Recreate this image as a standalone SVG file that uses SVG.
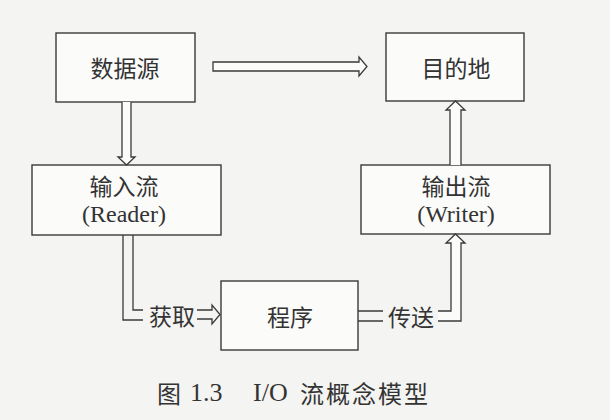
<svg xmlns="http://www.w3.org/2000/svg" width="610" height="420" viewBox="0 0 610 420">
<style>
.box{fill:#fbfbfa;stroke:#3a3a3a;stroke-width:1.4}
.ln{fill:none;stroke:#3a3a3a;stroke-width:1.3;stroke-linejoin:miter}
.ar{fill:#fbfbfa;stroke:#3a3a3a;stroke-width:1.3;stroke-linejoin:miter}
.zh{font-family:"Noto Sans CJK SC","Noto Sans",sans-serif;font-size:23px;fill:#333;text-anchor:middle;dominant-baseline:central}
.en{font-family:"Liberation Serif","DejaVu Serif",serif;font-size:24px;fill:#333;text-anchor:middle}
.cap{font-family:"Noto Sans CJK SC",sans-serif;font-size:24px;fill:#333;dominant-baseline:central}
.capen{font-family:"Liberation Serif","DejaVu Serif",serif;font-size:26px;fill:#333}
</style>
<rect width="610" height="420" fill="#f4f4f2"/>
<g id="source"><rect class="box" x="56" y="33" width="139" height="69"/><text class="zh" x="125" y="67">数据源</text></g>
<g id="dest"><rect class="box" x="386" y="33" width="138" height="68"/><text class="zh" x="456" y="67">目的地</text></g>
<g id="reader"><rect class="box" x="32" y="165" width="189" height="70"/><text class="zh" x="124" y="185">输入流</text><text class="en" x="124" y="222">(Reader)</text></g>
<g id="writer"><rect class="box" x="361" y="165" width="189" height="69"/><text class="zh" x="456" y="185">输出流</text><text class="en" x="456" y="222">(Writer)</text></g>
<g id="program"><rect class="box" x="221" y="281" width="137" height="69"/><text class="zh" x="290" y="316">程序</text></g>
<g id="connectors">
<path class="ar" d="M122,102 V157 H118 L126.5,165 L135,157 H131 V102"/>
<path class="ar" d="M359,62 H213 V71 H359 V76 L367,66.5 L359,57 Z"/>
<path class="ar" d="M450,165 V110 H446 L455.5,101 L465,110 H461 V165"/>
<path class="ln" d="M143,320 H123 V235 M133,235 V310 H143"/>
<text class="zh" x="172" y="315">获取</text>
<path class="ln" d="M197,310 H212 V305 L220,314.5 L212,324 V319 H197"/>
<path class="ln" d="M358,311 H383 M358,321 H383"/>
<text class="zh" x="411" y="316">传送</text>
<path class="ar" d="M438,311 H451 V243 H446 L455.5,234 L465,243 H461 V321 H438"/>
</g>
<g id="caption">
<text class="cap" x="157" y="392">图</text>
<text class="capen" x="190" y="401">1.3</text>
<text class="capen" x="253" y="401">I/O</text>
<text class="cap" x="300" y="392" letter-spacing="2">流概念模型</text>
</g>
</svg>
